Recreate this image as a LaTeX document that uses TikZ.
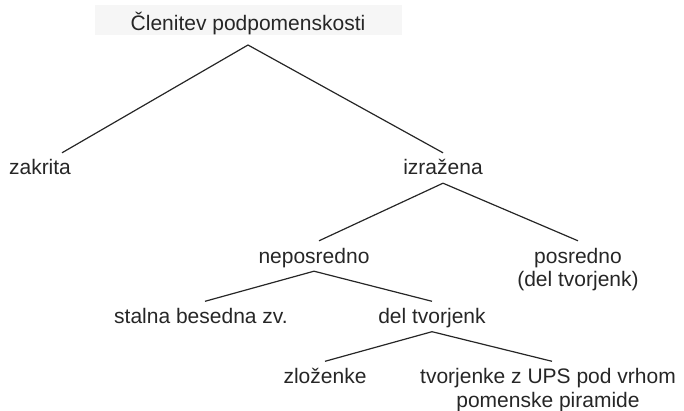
\documentclass[tikz,border=0pt]{standalone}
\usepackage{fontspec}
\setmainfont{Liberation Sans}
\definecolor{cText}{HTML}{262626}
\definecolor{cTitle}{HTML}{F6F6F6}

\begin{document}
\begin{tikzpicture}[
    x=1pt, y=-1pt,
    term/.style={
        anchor=base, text=cText, font=\fontsize{21}{23.5}\selectfont,
        align=center, inner xsep=0pt, inner ysep=8pt,
        text height=14pt, text depth=0pt
    },
    % two lines: anchored on the last baseline
    termtwo/.style={term, text height=37.5pt},
    head/.style={
        term, fill=cTitle, minimum width=307pt, inner ysep=0pt,
        text height=26pt, text depth=4pt, outer ysep=10pt
    },
    link/.style={draw=cText, line width=1.2pt},
]
\useasboundingbox (0,0) rectangle (684,411);

% =============================================
% TITLE
% =============================================
\node[head] (title) at (248,31) {Členitev podpomenskosti};

% =============================================
% FIRST SPLIT
% =============================================
\node[term] (zakrita) at (40,175) {zakrita};
\node[term] (izrazena) at (443,175) {izražena};

\draw[link] (title.south) -- ([xshift=22pt]zakrita.north);
\draw[link] (title.south) -- (izrazena.north);

% =============================================
% IZRAZENA
% =============================================
\node[term] (neposredno) at (314,263) {neposredno};
\node[termtwo] (posredno) at (578,286.5) {posredno\\(del tvorjenk)};

\draw[link] (izrazena.south) -- ([xshift=5pt]neposredno.north);
\draw[link] (izrazena.south) -- (posredno.north);

% =============================================
% NEPOSREDNO
% =============================================
\node[term] (stalna) at (201,323.5) {stalna besedna zv.};
\node[term] (deltvorjenk) at (432,323.5) {del tvorjenk};

\draw[link] (neposredno.south) -- ([xshift=4pt]stalna.north);
\draw[link] (neposredno.south) -- (deltvorjenk.north);

% =============================================
% DEL TVORJENK
% =============================================
\node[term] (zlozenke) at (325,383.5) {zloženke};
\node[termtwo] (tvorjenke) at (548,407) {tvorjenke z UPS pod vrhom\\pomenske piramide};

\draw[link] (deltvorjenk.south) -- (zlozenke.north);
\draw[link] (deltvorjenk.south) -- ([xshift=4pt]tvorjenke.north);

\end{tikzpicture}
\end{document}
